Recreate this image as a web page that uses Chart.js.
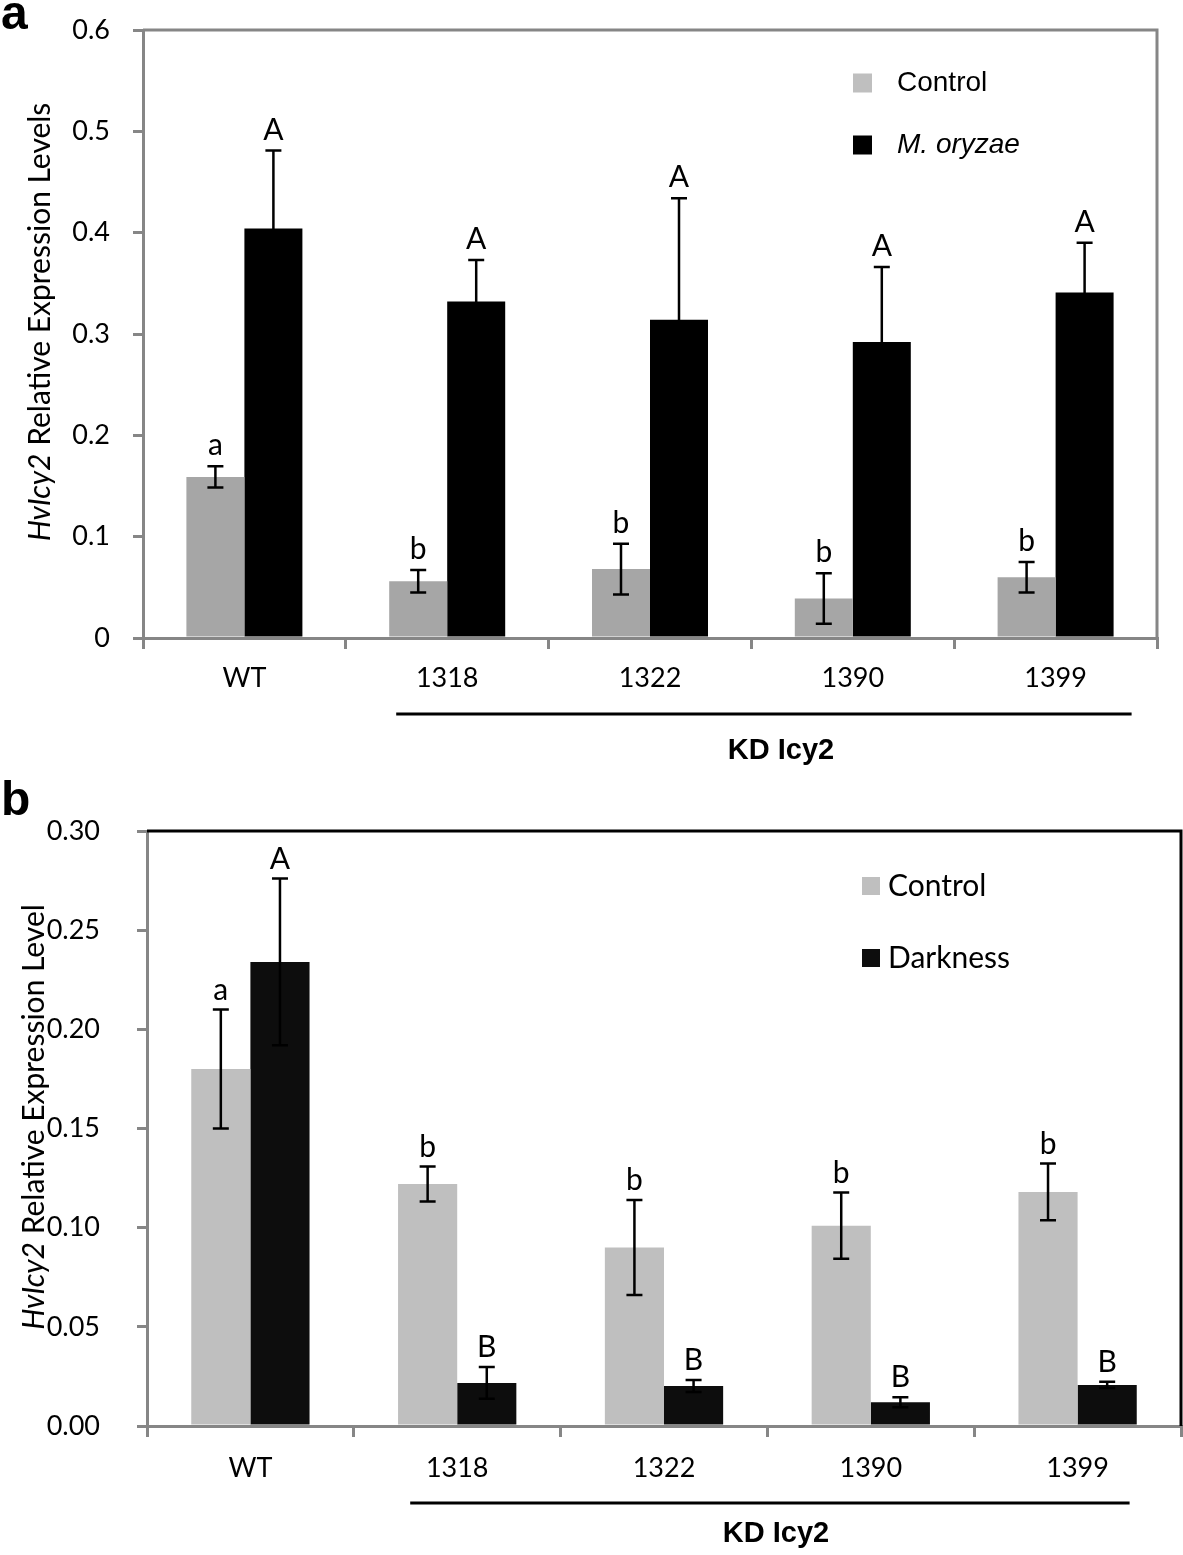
<!DOCTYPE html>
<html>
<head>
<meta charset="utf-8">
<script src="https://cdn.jsdelivr.net/npm/chart.js@4.4.0/dist/chart.umd.min.js"></script>
<style>
  body { margin: 0; background: #fff; width: 1183px; height: 1555px; position: relative; overflow: hidden; }
  .panel { position: absolute; left: 0; }
</style>
</head>
<body>
<div class="panel" style="top:0"><canvas id="chartA" width="1183" height="780"></canvas></div>
<div class="panel" style="top:780px"><canvas id="chartB" width="1183" height="775"></canvas></div>
<script>
// shared categories
const lines = ['WT', '1318', '1322', '1390', '1399'];

// panel a: Control vs M. oryzae
const controlA = [0.159, 0.056, 0.068, 0.039, 0.060];
const controlAErr = [0.0105, 0.011, 0.025, 0.025, 0.015];
const oryzaeA = [0.404, 0.332, 0.314, 0.292, 0.341];
const oryzaeAErr = [0.077, 0.041, 0.120, 0.074, 0.049];
const controlALetters = ['a', 'b', 'b', 'b', 'b'];
const oryzaeALetters = ['A', 'A', 'A', 'A', 'A'];
const ticksA = [0, 0.1, 0.2, 0.3, 0.4, 0.5, 0.6];
const tickLabelsA = ['0', '0.1', '0.2', '0.3', '0.4', '0.5', '0.6'];

// panel b: Control vs Darkness
const controlB = [0.180, 0.122, 0.090, 0.101, 0.118];
const controlBErr = [0.030, 0.0088, 0.024, 0.0167, 0.0143];
const darkB = [0.234, 0.0217, 0.0202, 0.012, 0.0207];
const darkBErr = [0.042, 0.008, 0.003, 0.0025, 0.0016];
const controlBLetters = ['a', 'b', 'b', 'b', 'b'];
const darkBLetters = ['A', 'B', 'B', 'B', 'B'];
const ticksB = [0, 0.05, 0.10, 0.15, 0.20, 0.25, 0.30];
const tickLabelsB = ['0.00', '0.05', '0.10', '0.15', '0.20', '0.25', '0.30'];

const AXIS_GREY = '#868686';
const TICK_FONT = { family: 'Lato', size: 27 };

// error bars + significance letters, positioned from the bar elements
function errorPlugin(errs, letters, gap) {
  return {
    id: 'errorBars',
    afterDatasetsDraw(chart) {
      const ctx = chart.ctx;
      const y = chart.scales.y;
      ctx.save();
      ctx.strokeStyle = '#000';
      ctx.lineWidth = 2.5;
      ctx.fillStyle = '#000';
      ctx.font = '30px Lato';
      ctx.textAlign = 'center';
      ctx.textBaseline = 'alphabetic';
      chart.data.datasets.forEach((ds, i) => {
        chart.getDatasetMeta(i).data.forEach((bar, j) => {
          const v = ds.data[j];
          const e = errs[i][j];
          const top = y.getPixelForValue(v + e);
          const bot = y.getPixelForValue(Math.max(0, v - e));
          ctx.beginPath();
          ctx.moveTo(bar.x, top); ctx.lineTo(bar.x, bot);
          ctx.moveTo(bar.x - 8, top); ctx.lineTo(bar.x + 8, top);
          ctx.moveTo(bar.x - 8, bot); ctx.lineTo(bar.x + 8, bot);
          ctx.stroke();
          ctx.fillText(letters[i][j], bar.x, top - gap);
        });
      });
      ctx.restore();
    }
  };
}

// frame, legend, axis title, group underline, panel letter
function decorPlugin(o) {
  return {
    id: 'decor',
    afterDraw(chart) {
      const ctx = chart.ctx;
      const a = chart.chartArea;
      const x = chart.scales.x;
      ctx.save();
      // top and right frame
      ctx.lineWidth = 3;
      ctx.strokeStyle = o.frameColor;
      ctx.beginPath();
      ctx.moveTo(a.left, a.top); ctx.lineTo(a.right, a.top); ctx.lineTo(a.right, a.bottom);
      ctx.stroke();

      // legend
      o.legend.forEach(item => {
        ctx.fillStyle = item.color;
        ctx.fillRect(o.legendX, item.y - o.box / 2, o.box, o.box);
        ctx.fillStyle = '#000';
        ctx.font = item.font;
        ctx.textAlign = 'left';
        ctx.textBaseline = 'middle';
        ctx.fillText(item.text, o.legendX + o.textGap, item.y);
      });

      // rotated y title with italic gene name
      ctx.save();
      ctx.translate(o.titleX, o.titleY);
      ctx.rotate(-Math.PI / 2);
      ctx.fillStyle = '#000';
      ctx.textBaseline = 'middle';
      ctx.textAlign = 'left';
      const italicFont = 'italic 30px Lato';
      const plainFont = '30px Lato';
      ctx.font = italicFont;
      const w1 = ctx.measureText('HvIcy2').width;
      ctx.font = plainFont;
      const w2 = ctx.measureText(o.titleRest).width;
      let sx = -(w1 + w2) / 2;
      ctx.font = italicFont;
      ctx.fillText('HvIcy2', sx, 0);
      ctx.font = plainFont;
      ctx.fillText(o.titleRest, sx + w1, 0);
      ctx.restore();

      // KD Icy2 underline and label
      const x1 = x.getPixelForValue(1), x4 = x.getPixelForValue(4);
      ctx.strokeStyle = '#000';
      ctx.lineWidth = 3;
      ctx.beginPath();
      ctx.moveTo(x1 - o.lineIn, o.lineY); ctx.lineTo(x4 + o.lineOut, o.lineY);
      ctx.stroke();
      ctx.fillStyle = '#000';
      ctx.font = 'bold 29px "Liberation Sans"';
      ctx.textAlign = 'center';
      ctx.textBaseline = 'middle';
      ctx.fillText('KD Icy2', o.groupX, o.groupY);

      // panel letter
      ctx.font = 'bold 48px "Liberation Sans"';
      ctx.textAlign = 'left';
      ctx.textBaseline = 'alphabetic';
      ctx.fillText(o.panel, 1, o.panelY);
      ctx.restore();
    }
  };
}

function makeChart(id, opts) {
  return new Chart(document.getElementById(id), {
    type: 'bar',
    data: {
      labels: lines,
      datasets: [
        { label: opts.names[0], data: opts.series[0], backgroundColor: opts.colors[0],
          categoryPercentage: 0.572, barPercentage: 1.0 },
        { label: opts.names[1], data: opts.series[1], backgroundColor: opts.colors[1],
          categoryPercentage: 0.572, barPercentage: 1.0 }
      ]
    },
    options: {
      responsive: false,
      animation: false,
      devicePixelRatio: 1,
      layout: { padding: opts.padding },
      plugins: { legend: { display: false }, tooltip: { enabled: false } },
      scales: {
        x: {
          afterFit: s => { s.height = opts.xHeight; },
          grid: { offset: true, drawOnChartArea: false, drawTicks: true, tickLength: 11,
                  color: AXIS_GREY, lineWidth: 3 },
          border: { color: AXIS_GREY, width: 3 },
          ticks: { color: '#000', font: TICK_FONT, padding: opts.xPad, maxRotation: 0 }
        },
        y: {
          min: 0, max: opts.yMax,
          // fixed width; drop the label overhang so the plot top follows layout padding
          afterFit: s => { s.width = opts.yWidth; s.paddingTop = 0; s.paddingBottom = 0; },
          afterBuildTicks: s => { s.ticks = opts.ticks.map(v => ({ value: v })); },
          grid: { drawOnChartArea: false, drawTicks: true, tickLength: 10,
                  color: AXIS_GREY, lineWidth: 3 },
          border: { color: AXIS_GREY, width: 3 },
          ticks: { color: '#000', font: TICK_FONT, padding: opts.yPad,
                   callback: (v, i) => opts.tickLabels[i] }
        }
      }
    },
    plugins: [errorPlugin(opts.errs, opts.letters, opts.gap), decorPlugin(opts.decor)]
  });
}

makeChart('chartA', {
  names: ['Control', 'M. oryzae'],
  series: [controlA, oryzaeA],
  errs: [controlAErr, oryzaeAErr],
  letters: [controlALetters, oryzaeALetters],
  colors: ['#a6a6a6', '#000000'],
  ticks: ticksA, tickLabels: tickLabelsA, yMax: 0.6,
  padding: { left: 0, right: 26, top: 30, bottom: 0 },
  xHeight: 142, yWidth: 143, xPad: 13, yPad: 23, gap: 11,
  decor: {
    frameColor: AXIS_GREY,
    legendX: 853, box: 19, textGap: 44,
    legend: [
      { text: 'Control', color: '#bfbfbf', y: 83, font: '28px "Liberation Sans"' },
      { text: 'M. oryzae', color: '#000000', y: 145, font: 'italic 28px "Liberation Sans"' }
    ],
    titleX: 40, titleY: 322, titleRest: ' Relative Expression Levels',
    lineY: 714, lineIn: 51, lineOut: 76, groupX: 781, groupY: 751,
    panel: 'a', panelY: 29
  }
});

makeChart('chartB', {
  names: ['Control', 'Darkness'],
  series: [controlB, darkB],
  errs: [controlBErr, darkBErr],
  letters: [controlBLetters, darkBLetters],
  colors: ['#bfbfbf', '#0d0d0d'],
  ticks: ticksB, tickLabels: tickLabelsB, yMax: 0.3,
  padding: { left: 0, right: 2, top: 51, bottom: 0 },
  xHeight: 129, yWidth: 147, xPad: 15, yPad: 37, gap: 10,
  decor: {
    frameColor: '#000',
    legendX: 862, box: 18, textGap: 26,
    legend: [
      { text: 'Control', color: '#bfbfbf', y: 106, font: '30px Lato' },
      { text: 'Darkness', color: '#0d0d0d', y: 178, font: '30px Lato' }
    ],
    titleX: 34, titleY: 337, titleRest: ' Relative Expression Level',
    lineY: 723, lineIn: 47, lineOut: 52, groupX: 776, groupY: 754,
    panel: 'b', panelY: 35
  }
});
</script>
</body>
</html>
